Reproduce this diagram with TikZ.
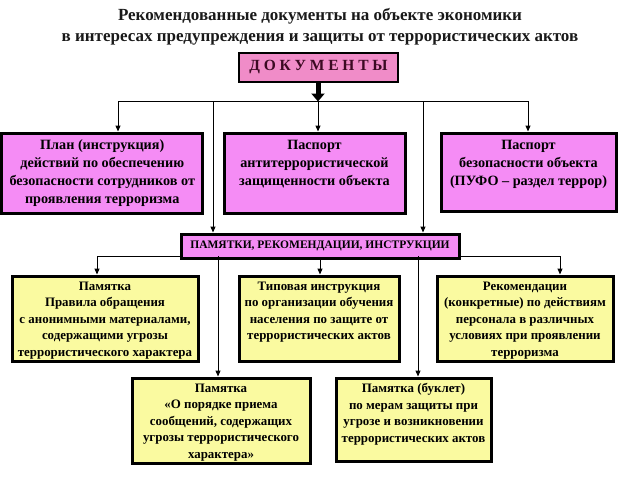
\documentclass[tikz,border=0pt]{standalone}
\usepackage{fontspec}
\setmainfont{Liberation Serif}
\usetikzlibrary{arrows.meta}
\definecolor{pinkbox}{RGB}{245,140,245}
\definecolor{docpink}{RGB}{240,140,200}
\definecolor{yelbox}{RGB}{250,250,160}
\definecolor{doctext}{RGB}{60,10,35}
\newcommand{\lsp}{\hspace{3.8pt}}
\tikzset{
  frame/.style={draw=black, line width=3pt, inner sep=0pt},
  pbox/.style={frame, fill=pinkbox},
  ybox/.style={frame, fill=yelbox},
  ptext/.style={anchor=north, align=center, inner sep=0pt, font=\bfseries\fontsize{14.2}{18}\selectfont},
  ytext/.style={anchor=north, align=center, inner sep=0pt, font=\bfseries\fontsize{12.9}{16.5}\selectfont},
  arr/.style={line width=1pt, -{Triangle[width=5pt,length=6pt]}},
  ln/.style={line width=1pt},
}
\begin{document}
\begin{tikzpicture}[x=1pt,y=-1pt]
\useasboundingbox (0,0) rectangle (640,480);
% title
\node[font=\bfseries\fontsize{17}{20.5}\selectfont, align=center, text=black!90] (title) at (320,26.5)
  {Рекомендованные документы на объекте экономики\\в интересах предупреждения и защиты от террористических актов};
% documents
\node[draw=black, line width=2pt, fill=docpink, minimum width=159pt, minimum height=29pt, inner sep=0pt,
  font=\bfseries\fontsize{15.5}{17}\selectfont, text=doctext] (doc) at (318.5,67.5)
  {Д\lsp О\lsp К\lsp У\lsp М\lsp Е\lsp Н\lsp Т\lsp Ы};
% first level boxes
\node[pbox, minimum width=201pt, minimum height=80pt] (b1) at (102.25,173) {};
\node[pbox, minimum width=181pt, minimum height=80pt] (b2) at (314.5,173) {};
\node[pbox, minimum width=175pt, minimum height=78pt] (b3) at (528.5,172) {};
\node[ptext] (b1t) at ([yshift=-8pt]b1.north) {План (инструкция)\\действий по обеспечению\\безопасности сотрудников от\\проявления терроризма};
\node[ptext] (b2t) at ([yshift=-8pt]b2.north) {Паспорт\\антитеррористической\\защищенности объекта};
\node[ptext] (b3t) at ([yshift=-8pt]b3.north) {Паспорт\\безопасности объекта\\(ПУФО – раздел террор)};
% pamyatki
\coordinate (hl) at (97,256);
\coordinate (hr) at (560,256);
\draw[ln] (hl) -- (hr);
\node[pbox, minimum width=278pt, minimum height=24pt, font=\bfseries\fontsize{11.5}{13}\selectfont] (pam) at (320,246)
  {ПАМЯТКИ, РЕКОМЕНДАЦИИ, ИНСТРУКЦИИ};
% second level boxes
\node[ybox, minimum width=186pt, minimum height=85pt] (y1) at (105,318.5) {};
\node[ybox, minimum width=160pt, minimum height=85pt] (y2) at (319,318.5) {};
\node[ybox, minimum width=176pt, minimum height=85pt] (y3) at (525,318.5) {};
\node[ybox, minimum width=178pt, minimum height=85pt] (y4) at (221,420.5) {};
\node[ybox, minimum width=155pt, minimum height=83pt] (y5) at (413.5,419.5) {};
\node[ytext] (y1t) at ([yshift=-7pt]y1.north) {Памятка\\Правила обращения\\с анонимными материалами,\\содержащими угрозы\\террористического характера};
\node[ytext] (y2t) at ([yshift=-7pt]y2.north) {Типовая инструкция\\по организации обучения\\населения по защите от\\террористических актов};
\node[ytext] (y3t) at ([yshift=-7pt]y3.north) {Рекомендации\\(конкретные) по действиям\\персонала в различных\\условиях при проявлении\\терроризма};
\node[ytext] (y4t) at ([yshift=-7pt]y4.north) {Памятка\\«О порядке приема\\сообщений, содержащих\\угрозы террористического\\характера»};
\node[ytext] (y5t) at ([yshift=-7pt]y5.north) {Памятка (буклет)\\по мерам защиты при\\угрозе и возникновении\\террористических актов};
% top connectors
\coordinate (tl) at (118,101);
\coordinate (tr) at (528,101);
\coordinate (t2) at (213,101);
\coordinate (t4) at (423,101);
\coordinate (tm) at (318,101);
\draw[ln] (tl) -- (tr);
\draw[line width=5pt, -{Triangle[width=13pt,length=8pt]}] (doc.south -| tm) -- ([yshift=-0.5pt]tm);
\draw[arr] (tl) -- (tl |- b1.north);
\draw[arr] (tm) -- (tm |- b2.north);
\draw[arr] (tr) -- (tr |- b3.north);
\draw[arr] (t2) -- (t2 |- pam.north);
\draw[arr] (t4) -- (t4 |- pam.north);
% bottom connectors
\coordinate (m2) at (218,256);
\coordinate (m3) at (320,256);
\coordinate (m4) at (418,256);
\draw[arr] (hl) -- (hl |- y1.north);
\draw[arr] (pam.south -| m3) -- (m3 |- y2.north);
\draw[arr] (hr) -- (hr |- y3.north);
\draw[arr] (m2) -- (m2 |- y4.north);
\draw[arr] (m4) -- (m4 |- y5.north);
\end{tikzpicture}
\end{document}
